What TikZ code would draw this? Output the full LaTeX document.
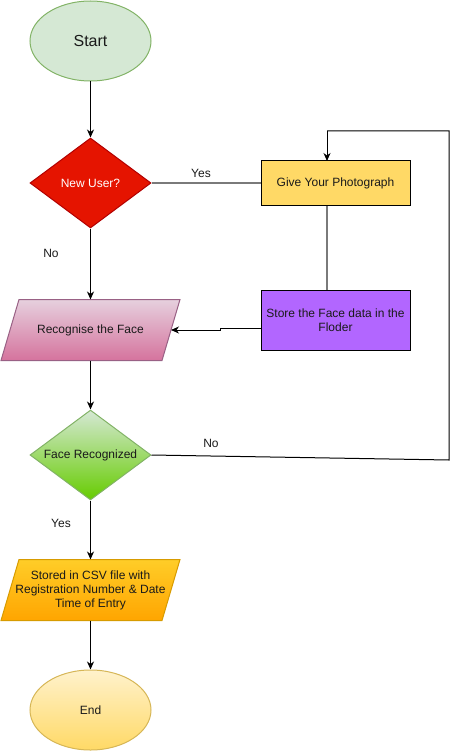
\documentclass[tikz,border=0pt]{standalone}
\usepackage{fontspec}
\setmainfont{Liberation Sans}
\usetikzlibrary{shapes.geometric,arrows.meta,backgrounds}
\definecolor{startfill}{HTML}{D5E8D4}
\definecolor{startline}{HTML}{82B366}
\definecolor{redfill}{HTML}{E51400}
\definecolor{redline}{HTML}{B20000}
\definecolor{photofill}{HTML}{FFD966}
\definecolor{purplefill}{HTML}{B266FF}
\definecolor{pinktop}{HTML}{E6D0DE}
\definecolor{pinkbot}{HTML}{D5739D}
\definecolor{pinkline}{HTML}{996185}
\definecolor{greenbot}{HTML}{66CC00}
\definecolor{orangetop}{HTML}{FFCD28}
\definecolor{orangebot}{HTML}{FFA500}
\definecolor{orangeline}{HTML}{D79B00}
\definecolor{endtop}{HTML}{FFF2CC}
\definecolor{endline}{HTML}{D6B656}
\definecolor{txt}{HTML}{1A1A1A}
\definecolor{greyline}{HTML}{7A7A7A}
\tikzset{
  base/.style={font=\fontsize{12}{14}\selectfont, text=txt, line width=1pt, inner sep=0pt, align=center},
  terminal/.style={base, ellipse, minimum width=121pt, minimum height=80pt},
  decision/.style={base, diamond, shape aspect=1.344, minimum width=121pt, minimum height=90pt},
  procbox/.style={base, rectangle, draw=black, minimum width=149pt},
  iobox/.style={base, rectangle, minimum width=160pt, minimum height=60pt},
  slanted/.style={line width=1pt},
  arr/.style={line width=1pt, -{Stealth[length=8pt,width=7pt,inset=2.5pt]}},
  link/.style={line width=1pt},
  greylink/.style={line width=1.3pt, draw=greyline},
  lbl/.style={font=\fontsize{12}{14}\selectfont, text=txt, inner sep=0pt}
}
% parallelogram outline around a rectangular node, slanting 9pt each way
\newcommand{\slantpath}[2]{%
  \path[slanted,#2] ([xshift=-9pt]#1.south west) -- ([xshift=9pt]#1.north west)
    -- ([xshift=9pt]#1.north east) -- ([xshift=-9pt]#1.south east) -- cycle;}
\begin{document}
\begin{tikzpicture}[x=1pt,y=-1pt]
  \useasboundingbox (0,0) rectangle (459,751);

  % flow nodes
  \node[terminal, draw=startline, fill=startfill, font=\fontsize{16}{18}\selectfont] (start) at (90.5,41) {Start};
  \node[decision, draw=redline, fill=redfill, text=white] (newuser) at (90.5,183) {New User?};
  \node[procbox, fill=photofill, minimum height=45pt] (photo) at (335.5,183) {Give Your Photograph};
  \node[procbox, fill=purplefill, minimum height=60pt] (store) at (335.5,320) {Store the Face data in the\\Floder};
  \node[iobox] (rec) at (90.5,330) {Recognise the Face};
  \node[decision, draw=startline, top color=startfill, bottom color=greenbot] (face) at (90.5,455) {Face Recognized};
  \node[iobox] (csv) at (90.5,590)
    {Stored in CSV file with\\Registration Number \& Date\\Time of Entry};
  \node[terminal, draw=endline, top color=endtop, bottom color=photofill] (end) at (90.5,710) {End};

  % parallelogram bodies behind the input/output texts
  \begin{scope}[on background layer]
    \slantpath{rec}{draw=pinkline, top color=pinktop, bottom color=pinkbot}
    \slantpath{csv}{draw=orangeline, top color=orangetop, bottom color=orangebot}
  \end{scope}

  % loop back corner points
  \coordinate (loopA) at (449,460);
  \coordinate (loopB) at (449,131);
  \coordinate (loopC) at (327,131);
  \coordinate (photoIn) at (327,161);

  % connectors
  \draw[arr] (start) -- (newuser);
  \draw[greylink] (newuser.east) -- (photo.west);
  \draw[greylink] (photo.south -| 327,0) -- (store.north -| 327,0);
  \draw[arr] ([yshift=-8pt]store.west) -- ++(-40,0) |- (rec.east);
  \draw[arr] (newuser.south) -- (rec.north);
  \draw[arr] (rec.south) -- (face.north);
  \draw[link] (face.east) -- (loopA) -- (loopB) -- (loopC);
  \draw[arr] (loopC) -- (photoIn);
  \draw[arr] (face.south) -- (csv.north);
  \draw[arr] (csv.south) -- (end.north);

  % edge labels
  \node[lbl] (yes1) at (201,173) {Yes};
  \node[lbl] (no1) at (51,253) {No};
  \node[lbl] (no2) at (211,443) {No};
  \node[lbl] (yes2) at (61,523) {Yes};
\end{tikzpicture}
\end{document}
